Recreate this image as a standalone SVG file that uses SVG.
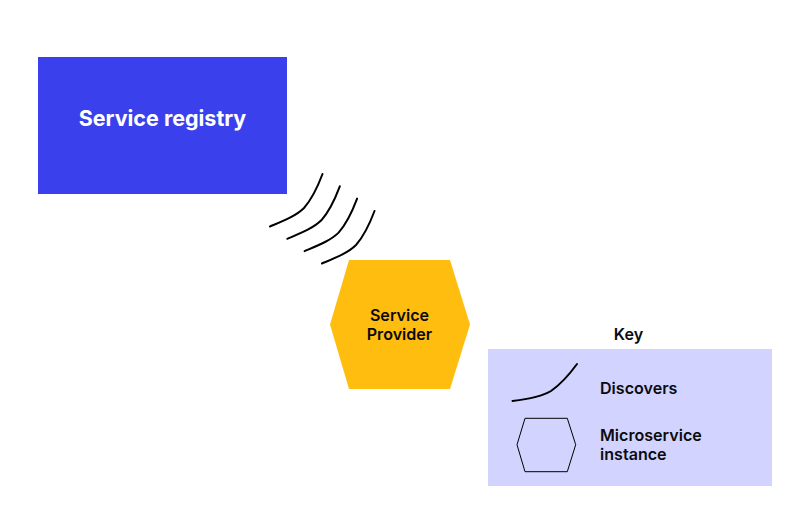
<svg xmlns="http://www.w3.org/2000/svg" width="800" height="519" viewBox="0 0 800 519">
<style>
.t{font-family:"Inter","Liberation Sans",sans-serif;font-weight:600;font-size:16.100px;fill:#0b0b0f}
.m{text-anchor:middle}
.c{fill:none;stroke:#000;stroke-width:2;stroke-linecap:round}
</style>
<defs><path id="d" d="M270 226.500C283 221 296 216 304 208C312 199 318 186 322.500 174"/></defs>
<rect width="800" height="519" fill="#fff"/>
<g id="service-registry">
<rect x="38" y="57" width="249" height="137" fill="#3a41ec"/>
<text x="162.500" y="126" text-anchor="middle" style="font-family:'Inter','Liberation Sans',sans-serif;font-weight:700;font-size:21.500px;fill:#fff">Service registry</text>
</g>
<g id="service-provider">
<polygon points="349,260 450,260 470,324.500 450,389 349,389 330,324.500" fill="#ffbd0f"/>
<text class="t m" x="399.500" y="321">Service</text>
<text class="t m" x="399.500" y="340">Provider</text>
</g>
<g id="connectors">
<use href="#d" class="c"/>
<use href="#d" class="c" x="17.300" y="12.300"/>
<use href="#d" class="c" x="34.600" y="24.600"/>
<use href="#d" class="c" x="52" y="37"/>
</g>
<g id="key">
<text class="t m" x="628.500" y="340">Key</text>
<rect x="488" y="349" width="284" height="137" fill="#d2d4ff"/>
<path d="M512.500 401C525 399.500 541 397 551 391C561 384 569 375 577 364" fill="none" stroke="#000" stroke-width="2" stroke-linecap="round"/>
<polygon points="525,418.300 567.300,418.300 575.700,444.700 567.300,471.700 525,471.700 517,444.700" fill="none" stroke="#000" stroke-width="1"/>
<text class="t" x="600" y="394">Discovers</text>
<text class="t" x="600" y="441">Microservice</text>
<text class="t" x="600" y="460">instance</text>
</g>
</svg>
